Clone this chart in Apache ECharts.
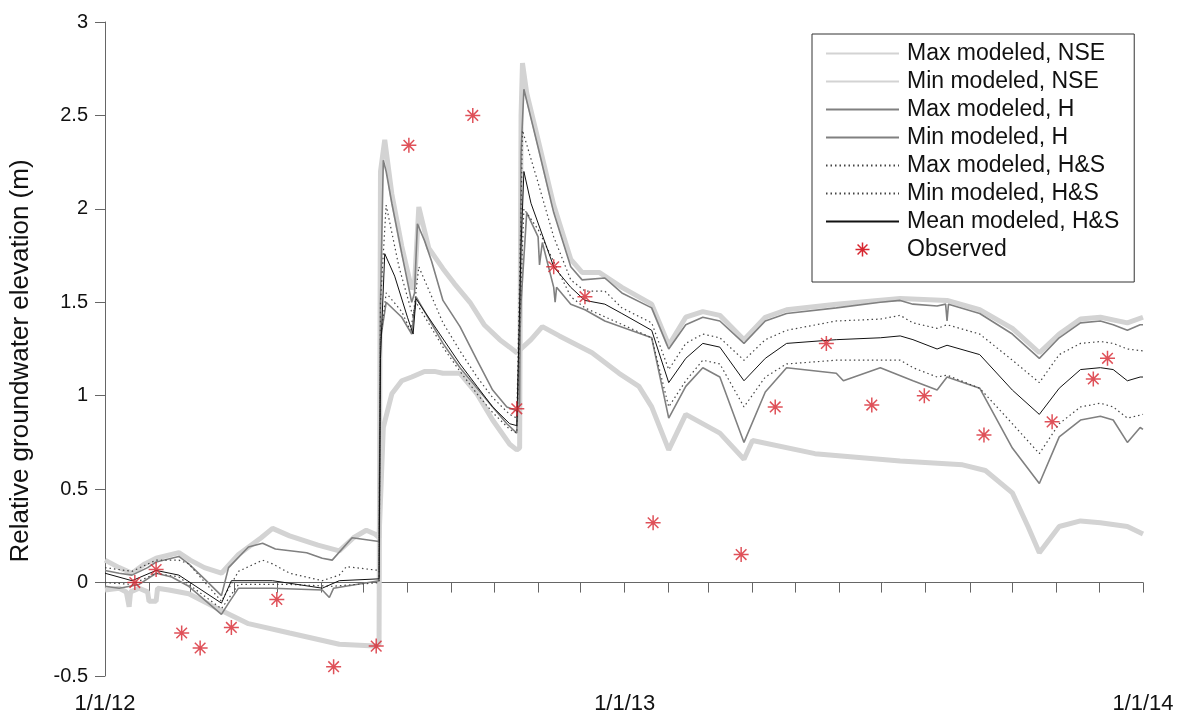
<!DOCTYPE html>
<html>
<head>
<meta charset="utf-8">
<script src="https://cdn.jsdelivr.net/npm/echarts@6/dist/echarts.min.js"></script>
<style>
  html, body { margin: 0; padding: 0; background: #fff; }
  #chart { width: 1191px; height: 722px; }
</style>
</head>
<body>
<div id="chart"></div>
<script>
// x values are days since 1/1/12
const xTickDays = [0, 31, 60, 91, 121, 152, 182, 213, 244, 274, 305, 335,
  366, 397, 425, 456, 486, 517, 547, 578, 609, 639, 670, 700, 731]
const xLabelDays = [0, 366, 731]
const xLabelText = ['1/1/12', '1/1/13', '1/1/14']

const maxNSE = [
  [0, 0.12], [10, 0.08], [19, 0.05], [28, 0.1], [36, 0.13], [52, 0.16], [60, 0.12], [70, 0.08],
  [82, 0.05], [94, 0.15], [110, 0.24], [118, 0.29], [130, 0.25], [150, 0.2], [165, 0.17],
  [175, 0.24], [184, 0.28], [190, 0.26], [193, 0.24],
  [196, 0.83], [202, 1.01], [209, 1.08], [216, 1.1], [225, 1.13], [232, 1.13], [238, 1.12],
  [250, 1.12], [262, 1.01], [273, 0.87], [285, 0.74], [290, 0.71], [292, 0.72],
  [293, 2.5], [294, 2.78], [297, 2.62], [305, 2.37], [316, 2.02], [328, 1.73], [336, 1.66],
  [348, 1.66], [364, 1.58], [385, 1.49], [397, 1.27], [409, 1.42], [421, 1.45], [433, 1.43],
  [450, 1.3], [465, 1.42], [480, 1.46], [515, 1.49], [560, 1.52], [593, 1.51], [616, 1.46],
  [639, 1.36], [658, 1.23], [672, 1.33], [687, 1.41], [701, 1.42], [720, 1.39], [731, 1.42]
]
const minNSE = [
  [0, -0.04], [10, -0.03], [15, -0.05], [17, -0.13], [18, -0.05], [24, -0.03], [30, -0.05],
  [31, -0.1], [36, -0.1], [37, -0.03], [45, -0.04], [59, -0.06], [82, -0.15], [101, -0.22],
  [130, -0.27], [165, -0.33], [190, -0.34], [193, -0.33],
  [194, 2.2], [197, 2.37], [202, 2.08], [209, 1.8], [216, 1.57], [218, 1.6], [221, 2.01],
  [228, 1.79], [238, 1.68], [246, 1.6], [257, 1.5], [267, 1.38], [278, 1.3], [285, 1.26],
  [290, 1.23], [300, 1.3], [308, 1.37], [320, 1.32], [343, 1.23], [362, 1.12], [376, 1.05],
  [385, 0.94], [397, 0.71], [409, 0.9], [433, 0.8], [450, 0.66], [456, 0.76], [500, 0.69],
  [560, 0.65], [604, 0.63], [620, 0.6], [639, 0.48], [650, 0.3], [658, 0.16], [672, 0.3],
  [687, 0.33], [701, 0.32], [720, 0.3], [731, 0.26]
]
const maxH = [
  [0, 0.065], [10, 0.05], [19, 0.04], [30, 0.08], [36, 0.11], [52, 0.14], [59, 0.1], [70, 0.02],
  [82, -0.07], [87, 0.08], [101, 0.19], [111, 0.21], [120, 0.18], [142, 0.16], [153, 0.13],
  [160, 0.12], [174, 0.24], [193, 0.22],
  [194, 1.5], [196, 2.26], [198, 2.2], [202, 2.03], [209, 1.76], [216, 1.5], [218, 1.55],
  [220, 1.92], [225, 1.83], [230, 1.72], [238, 1.51], [250, 1.37], [262, 1.19], [273, 1.03],
  [283, 0.94], [290, 0.92], [292, 0.95],
  [293, 2.3], [295, 2.64], [305, 2.33], [316, 1.98], [328, 1.69], [336, 1.62], [352, 1.63],
  [364, 1.55], [385, 1.47], [397, 1.25], [409, 1.38], [421, 1.42], [433, 1.4], [450, 1.28],
  [465, 1.4], [480, 1.44], [515, 1.47], [546, 1.5], [560, 1.51], [569, 1.49], [586, 1.48],
  [592, 1.49], [593, 1.4], [594, 1.49], [616, 1.44], [639, 1.33], [658, 1.2], [672, 1.31],
  [687, 1.39], [701, 1.4], [710, 1.38], [720, 1.35], [729, 1.38], [731, 1.38]
]
const minH = [
  [0, -0.02], [10, -0.03], [24, -0.01], [36, 0.05], [47, 0.03], [59, -0.02], [82, -0.17],
  [87, -0.11], [94, -0.03], [118, -0.03], [153, -0.04], [158, -0.08], [161, -0.03], [193, 0.01],
  [194, 1.3], [198, 1.5], [209, 1.42], [216, 1.33], [219, 1.53], [238, 1.28], [250, 1.15],
  [262, 1.04], [273, 0.94], [283, 0.85], [290, 0.8],
  [293, 1.5], [297, 1.98], [305, 1.85], [306, 1.7], [308, 1.82], [316, 1.58], [317, 1.5],
  [318, 1.58], [328, 1.49], [338, 1.46], [352, 1.4], [385, 1.31], [397, 0.88], [409, 1.05],
  [421, 1.15], [433, 1.1], [450, 0.75], [465, 1.02], [480, 1.15], [515, 1.12], [520, 1.08],
  [546, 1.15], [569, 1.08], [586, 1.03], [593, 1.1], [616, 1.04], [639, 0.72], [658, 0.53],
  [672, 0.78], [687, 0.87], [701, 0.89], [710, 0.87], [720, 0.75], [729, 0.83], [731, 0.82]
]
const maxHS = [
  [0, 0.08], [19, 0.06], [36, 0.12], [52, 0.12], [59, 0.1], [82, -0.1], [94, 0.06], [111, 0.12],
  [118, 0.1], [130, 0.05], [153, 0.01], [165, 0.04], [170, 0.085], [193, 0.065],
  [194, 1.5], [198, 2.02], [207, 1.69], [217, 1.42], [221, 1.69], [238, 1.39], [250, 1.24],
  [262, 1.1], [273, 0.99], [285, 0.9], [290, 0.88],
  [293, 2.0], [294, 2.42], [305, 2.14], [316, 1.85], [328, 1.62], [338, 1.56], [352, 1.56],
  [364, 1.47], [385, 1.39], [397, 1.14], [409, 1.28], [421, 1.33], [433, 1.31], [450, 1.19],
  [465, 1.3], [480, 1.35], [515, 1.4], [546, 1.41], [560, 1.43], [569, 1.39], [586, 1.36],
  [593, 1.38], [616, 1.33], [639, 1.19], [658, 1.07], [672, 1.22], [687, 1.28], [701, 1.29],
  [710, 1.28], [720, 1.25], [731, 1.24]
]
const minHS = [
  [0, 0.0], [19, -0.01], [36, 0.05], [52, 0.03], [82, -0.14], [94, -0.01], [130, -0.01],
  [160, -0.02], [193, 0.0],
  [194, 1.3], [198, 1.55], [209, 1.45], [215, 1.35], [219, 1.5], [238, 1.26], [250, 1.13],
  [262, 1.01], [273, 0.91], [285, 0.82], [290, 0.8],
  [293, 1.6], [295, 2.0], [305, 1.89], [328, 1.53], [338, 1.47], [385, 1.31], [397, 0.94],
  [409, 1.08], [421, 1.19], [433, 1.17], [450, 0.94], [465, 1.1], [480, 1.17], [515, 1.19],
  [560, 1.19], [569, 1.15], [586, 1.1], [593, 1.11], [616, 1.04], [639, 0.85], [658, 0.69],
  [672, 0.85], [687, 0.94], [701, 0.96], [710, 0.94], [720, 0.88], [731, 0.9]
]
const meanHS = [
  [0, 0.05], [19, 0.01], [36, 0.065], [52, 0.04], [82, -0.11], [89, 0.01], [118, 0.01],
  [153, -0.03], [165, 0.01], [193, 0.02],
  [194, 1.2], [197, 1.76], [204, 1.64], [213, 1.42], [217, 1.33], [219, 1.52], [226, 1.44],
  [250, 1.17], [262, 1.05], [273, 0.94], [285, 0.85], [290, 0.84],
  [293, 1.8], [295, 2.2], [300, 2.03], [316, 1.69], [328, 1.58], [338, 1.51], [352, 1.49],
  [364, 1.44], [385, 1.35], [397, 1.07], [409, 1.2], [421, 1.28], [433, 1.26], [450, 1.08],
  [465, 1.2], [480, 1.28], [515, 1.3], [546, 1.31], [560, 1.32], [569, 1.3], [586, 1.25],
  [593, 1.27], [616, 1.22], [639, 1.03], [658, 0.9], [672, 1.04], [687, 1.14], [701, 1.15],
  [710, 1.14], [720, 1.08], [729, 1.1], [731, 1.1]
]
const observed = [
  [21, 0.0], [36, 0.07], [54, -0.27], [67, -0.35], [89, -0.24], [121, -0.09], [161, -0.45],
  [191, -0.34], [214, 2.34], [259, 2.5], [290, 0.93], [316, 1.69], [338, 1.53], [386, 0.32],
  [448, 0.15], [472, 0.94], [508, 1.28], [540, 0.95], [577, 1.0], [619, 0.79], [667, 0.86],
  [696, 1.09], [706, 1.2]
]

const asterisk = 'path://M0,-10L0,10M-10,0L10,0M-7.07,-7.07L7.07,7.07M-7.07,7.07L7.07,-7.07'
const font = 'Liberation Sans, Arial, sans-serif'
const red = '#d7262f'

function lineSeries(name, data, color, width, type, z) {
  return {
    name: name,
    type: 'line',
    data: data,
    symbol: 'none',
    z: z,
    lineStyle: { color: color, width: width, type: type },
    itemStyle: { color: color },
    animation: false
  }
}

const chart = echarts.init(document.getElementById('chart'))
chart.setOption({
  animation: false,
  textStyle: { fontFamily: font },
  grid: { left: 105, right: 48, top: 22, bottom: 46, outerBoundsMode: 'none', containLabel: false },
  legend: {
    orient: 'vertical',
    left: 812,
    top: 34,
    itemWidth: 73,
    itemHeight: 14,
    itemGap: 5,
    padding: [8, 15, 21, 13],
    borderColor: '#333',
    borderWidth: 1,
    backgroundColor: '#fff',
    itemStyle: { opacity: 0 },
    textStyle: { fontSize: 23, color: '#111', fontFamily: font, padding: [0, 0, 0, 3] },
    data: [
      'Max modeled, NSE', 'Min modeled, NSE', 'Max modeled, H', 'Min modeled, H',
      'Max modeled, H&S', 'Min modeled, H&S', 'Mean modeled, H&S',
      {
        name: 'Observed',
        icon: asterisk,
        itemStyle: { opacity: 1, color: 'none', borderColor: red, borderWidth: 1.5 }
      }
    ]
  },
  xAxis: {
    type: 'value',
    min: 0,
    max: 731,
    axisLine: { lineStyle: { color: '#666', width: 1 } },
    axisTick: { show: true, length: 10, customValues: xTickDays, lineStyle: { color: '#666' } },
    axisLabel: {
      customValues: xLabelDays,
      formatter: v => xLabelText[xLabelDays.indexOf(v)],
      fontSize: 22,
      color: '#111',
      margin: 17
    },
    splitLine: { show: false }
  },
  yAxis: {
    type: 'value',
    min: -0.5,
    max: 3,
    interval: 0.5,
    name: 'Relative groundwater elevation (m)',
    nameLocation: 'middle',
    nameGap: 71,
    nameTextStyle: { fontSize: 26, color: '#111', padding: [0, 24, 0, 0] },
    axisLine: { show: true, lineStyle: { color: '#666', width: 1 } },
    axisTick: { show: true, length: 10, lineStyle: { color: '#666' } },
    axisLabel: { fontSize: 20, color: '#111', margin: 17 },
    splitLine: { show: false }
  },
  series: [
    lineSeries('Max modeled, NSE', maxNSE, '#d3d3d3', 5, 'solid', 1),
    lineSeries('Min modeled, NSE', minNSE, '#d3d3d3', 5, 'solid', 1),
    lineSeries('Max modeled, H', maxH, '#808080', 1.6, 'solid', 2),
    lineSeries('Min modeled, H', minH, '#808080', 1.6, 'solid', 2),
    lineSeries('Max modeled, H&S', maxHS, '#444', 1.2, [1.5, 3], 3),
    lineSeries('Min modeled, H&S', minHS, '#444', 1.2, [1.5, 3], 3),
    lineSeries('Mean modeled, H&S', meanHS, '#111', 1, 'solid', 4),
    {
      name: 'Observed',
      type: 'scatter',
      data: observed,
      symbol: asterisk,
      symbolSize: 15,
      z: 5,
      itemStyle: { color: 'none', borderColor: red, borderWidth: 1.5 }
    }
  ]
})
</script>
</body>
</html>
